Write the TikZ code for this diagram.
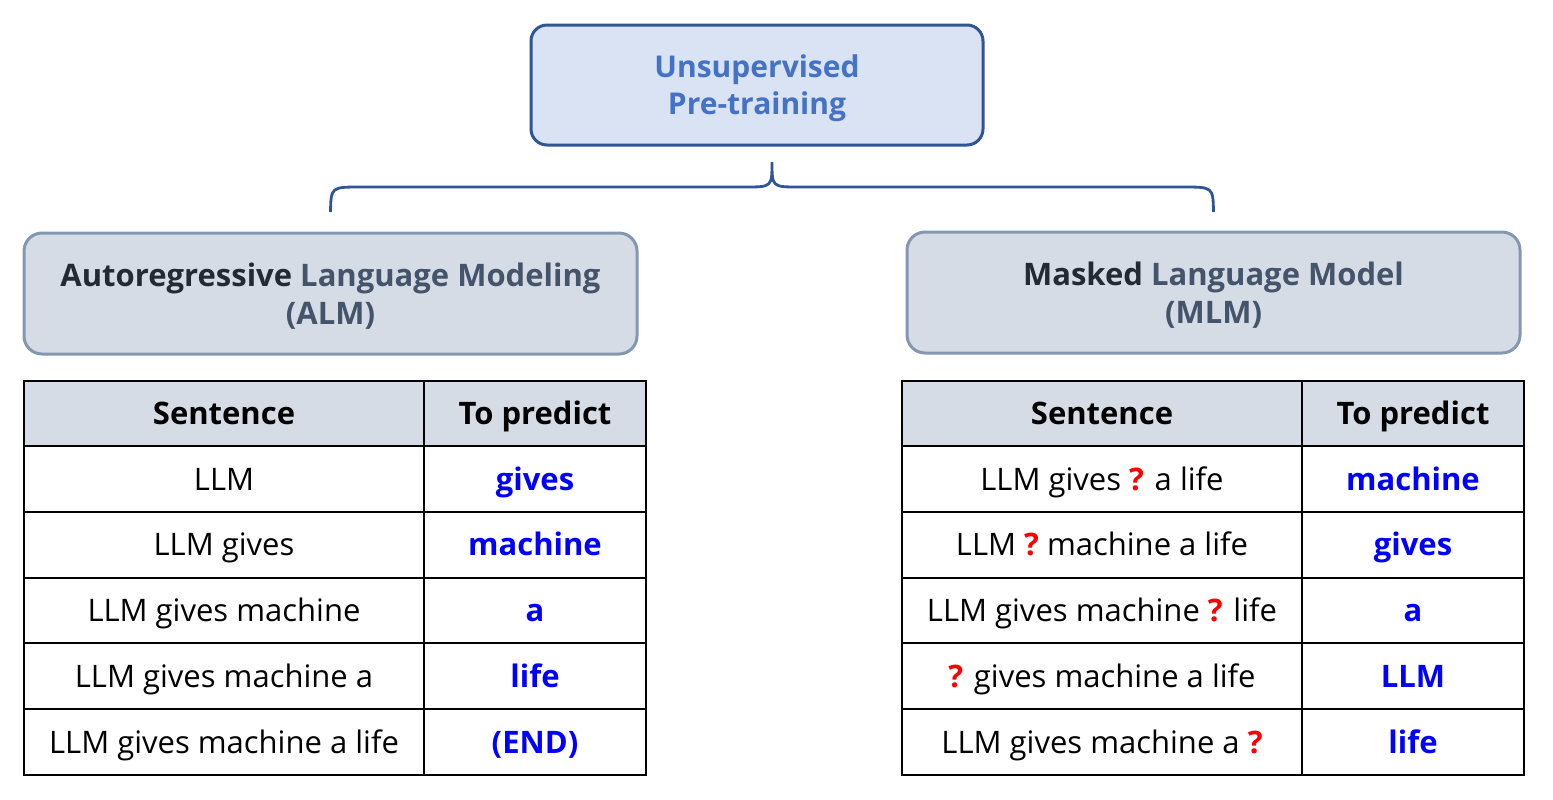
\documentclass[tikz,border=0pt]{standalone}
\usepackage{fontspec}
\setmainfont{Open Sans}
\definecolor{topfill}{HTML}{DAE3F3}
\definecolor{topline}{HTML}{2F5597}
\definecolor{toptext}{HTML}{4472C4}
\definecolor{hdrfill}{HTML}{D6DCE5}
\definecolor{hdrline}{HTML}{8497B0}
\definecolor{hdrdark}{HTML}{222A35}
\definecolor{hdrtext}{HTML}{44546A}
\definecolor{predblue}{HTML}{0000FF}
\definecolor{maskred}{HTML}{FF0000}
\tikzset{
  topbox/.style={draw=topline, fill=topfill, line width=1.5pt, rounded corners=8pt,
                 minimum width=226pt, minimum height=60pt, align=center, text depth=0pt,
                 font=\fontsize{15}{18.5}\selectfont\bfseries, text=toptext},
  hdrbox/.style={draw=hdrline, fill=hdrfill, line width=1.5pt, rounded corners=9pt,
                 minimum width=306.5pt, minimum height=60.5pt, align=center, text depth=0pt,
                 font=\fontsize{15.5}{19}\selectfont\bfseries, text=hdrtext},
  sentcell/.style={draw, line width=1pt, minimum width=200pt, minimum height=32.85pt,
                   inner sep=0pt, text height=11pt, text depth=0pt,
                   font=\fontsize{15.5}{18}\selectfont},
  predcell/.style={sentcell, minimum width=111pt, font=\fontsize{15.5}{18}\selectfont\bfseries,
                   text=predblue},
  headcell/.style={fill=hdrfill, font=\fontsize{15.5}{18}\selectfont\bfseries, text=black},
  bracearc/.style={draw=topline, line width=1.4pt},
}
\newcommand{\qm}{\textcolor{maskred}{\textbf{?}}}

\begin{document}
\begin{tikzpicture}[x=0.5pt, y=-0.5pt]
  \useasboundingbox (0,0) rectangle (1553,799);

  \node[topbox] (top) at (757,85) {Unsupervised\\Pre-training};

  \node[hdrbox] (alm) at (330.5,293.5) {\textcolor{hdrdark}{Autoregressive} Language Modeling\\(ALM)};
  \node[hdrbox] (mlm) at (1213.5,292.5) {\textcolor{hdrdark}{Masked} Language Model\\(MLM)};

  % brace from the top box down to both headers
  \coordinate (brL) at (alm.north |- 0,212);
  \coordinate (brR) at (mlm.north |- 0,212);
  \coordinate (brTip) at (772,162);
  \draw[bracearc] (brL) .. controls (331,187) .. (361,187) -- (745,187)
    .. controls (772,187) .. (brTip) .. controls (772,187) .. (799,187)
    -- (1183,187) .. controls (1213,187) .. (brR);

  % ALM table
  \node[sentcell, headcell] (alSh) at (224,413.5) {Sentence};
  \node[predcell, headcell] (alPh) at (535,413.5) {To predict};
  \foreach \s/\p [count=\i] in {LLM/gives, LLM gives/machine, LLM gives machine/a,
      LLM gives machine a/life, LLM gives machine a life/(END)} {
    \node[sentcell] (alS\i) at (224,413.5+65.7*\i) {\s};
    \node[predcell] (alP\i) at (535,413.5+65.7*\i) {\p};
  }

  % MLM table
  \node[sentcell, headcell] (mlSh) at (1102,413.5) {Sentence};
  \node[predcell, headcell] (mlPh) at (1413,413.5) {To predict};
  \foreach \s/\p [count=\i] in {LLM gives \qm{} a life/machine, LLM \qm{} machine a life/gives,
      LLM gives machine \qm{} life/a, \qm{} gives machine a life/LLM,
      LLM gives machine a \qm/life} {
    \node[sentcell] (mlS\i) at (1102,413.5+65.7*\i) {\s};
    \node[predcell] (mlP\i) at (1413,413.5+65.7*\i) {\p};
  }
\end{tikzpicture}
\end{document}
